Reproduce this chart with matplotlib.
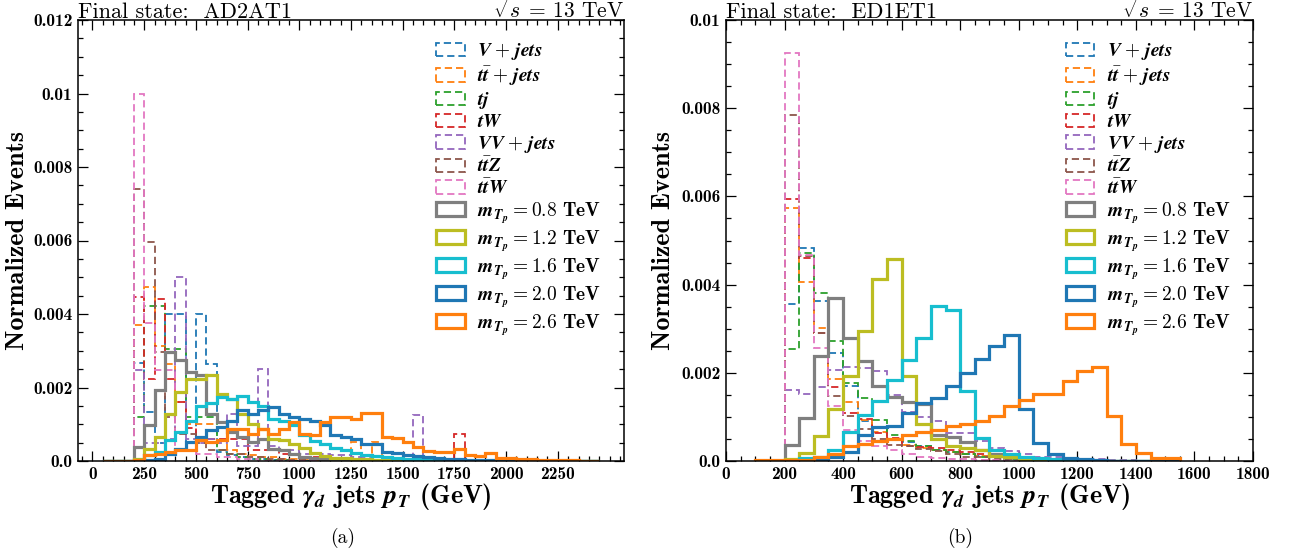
import numpy as np
import matplotlib
matplotlib.use("Agg")
import matplotlib.pyplot as plt
from matplotlib.ticker import FixedLocator, MultipleLocator

plt.rcParams['mathtext.fontset'] = 'cm'
plt.rcParams['axes.unicode_minus'] = False

# ---------------- data (normalized events, in units of 1e-3) ----------------
# Left panel: Final state AD2AT1, 50 GeV bins from 50 to 2450 GeV
left_edges = list(range(50, 2451, 50))
left_vjets = [0, 0, 0, 2.66, 1.33, 0.50, 4.00, 4.00,
              0.30, 4.00, 2.65, 0.25, 0.15, 0.10, 0.05, 0.05,
              0.03, 0.02, 0, 0, 0, 0, 0, 0,
              0, 0, 0, 0, 0, 0, 0, 0,
              0, 0, 0, 0, 0, 0, 0, 0,
              0, 0, 0, 0, 0, 0, 0, 0]
left_ttjets = [0, 0, 0, 3.69, 4.73, 3.14, 2.64, 1.60,
               1.00, 1.00, 1.00, 1.06, 0.30, 0.20, 0.15, 0.10,
               0.10, 0.05, 0.05, 0.05, 0.03, 0.03, 0.02, 0.02,
               0.52, 0.05, 0.53, 0.02, 0.01, 0, 0, 0,
               0, 0, 0, 0, 0, 0, 0, 0,
               0, 0, 0, 0, 0, 0, 0, 0]
left_tj = [0, 0, 0, 1.20, 4.23, 4.23, 3.05, 3.05,
           1.20, 1.20, 1.20, 0.30, 0.20, 0.10, 0.05, 0.05,
           0.03, 0.02, 0, 0, 0, 0, 0, 0,
           0, 0, 0, 0, 0, 0, 0, 0,
           0, 0, 0, 0, 0, 0, 0, 0,
           0, 0, 0, 0, 0, 0, 0, 0]
left_tw = [0, 0, 0, 4.46, 2.24, 4.40, 2.24, 1.60,
           0.90, 0.60, 0.60, 0.60, 0.60, 0.60, 0.30, 0.30,
           0.30, 0.20, 0.20, 0.10, 0.10, 0.05, 0.05, 0.05,
           0.05, 0.03, 0.03, 0.02, 0.02, 0.02, 0.02, 0.01,
           0.01, 0.01, 0.74, 0, 0, 0, 0, 0,
           0, 0, 0, 0, 0, 0, 0, 0]
left_vv = [0, 0, 0, 2.48, 0.50, 0.50, 0.60, 5.00,
           0.60, 0.50, 0.60, 0.50, 1.29, 0.40, 0.40, 2.50,
           0.40, 0.30, 0.30, 0.20, 0.20, 0.20, 0.15, 0.15,
           0.10, 0.10, 0.10, 0.05, 0.05, 0.05, 1.24, 0.05,
           0.03, 0.02, 0.02, 0.01, 0, 0, 0, 0,
           0, 0, 0, 0, 0, 0, 0, 0]
left_ttz = [0, 0, 0, 7.40, 5.95, 2.96, 1.20, 0.74,
            0.74, 0.50, 0.30, 0.30, 0.20, 0.20, 0.10, 0.10,
            0.05, 0.05, 0.03, 0.02, 0, 0, 0, 0,
            0, 0, 0, 0, 0, 0, 0, 0,
            0, 0, 0, 0, 0, 0, 0, 0,
            0, 0, 0, 0, 0, 0, 0, 0]
left_ttw = [0, 0, 0, 10.00, 3.75, 2.48, 2.48, 0.30,
            0.30, 0.20, 0.20, 0.10, 0.10, 0.05, 0.05, 0,
            0, 0, 0, 0, 0, 0, 0, 0,
            0, 0, 0, 0, 0, 0, 0, 0,
            0, 0, 0, 0, 0, 0, 0, 0,
            0, 0, 0, 0, 0, 0, 0, 0]
left_m08 = [0, 0, 0, 0.38, 0.97, 1.92, 2.96, 2.74,
            2.42, 2.33, 1.29, 1.06, 0.79, 0.65, 0.52, 0.60,
            0.34, 0.31, 0.20, 0.11, 0.08, 0.05, 0.03, 0.02,
            0.01, 0, 0, 0, 0, 0, 0, 0,
            0, 0, 0, 0, 0, 0, 0, 0,
            0, 0, 0, 0, 0, 0, 0, 0]
left_m12 = [0, 0, 0, 0.06, 0.34, 0.65, 1.29, 1.88,
            2.24, 2.24, 2.33, 1.83, 1.69, 1.29, 1.01, 0.88,
            0.60, 0.56, 0.45, 0.35, 0.22, 0.13, 0.09, 0.09,
            0.06, 0.05, 0.04, 0.03, 0.02, 0.01, 0.01, 0,
            0, 0, 0, 0, 0, 0, 0, 0,
            0, 0, 0, 0, 0, 0, 0, 0]
left_m16 = [0, 0, 0, 0.03, 0.15, 0.24, 0.56, 0.79,
            1.10, 1.51, 1.58, 1.74, 1.69, 1.78, 1.60, 1.51,
            1.15, 1.10, 0.97, 0.70, 0.55, 0.45, 0.35, 0.30,
            0.22, 0.15, 0.14, 0.10, 0.08, 0.06, 0.05, 0.04,
            0.03, 0.02, 0.02, 0.01, 0.01, 0, 0, 0,
            0, 0, 0, 0, 0, 0, 0, 0]
left_m20 = [0, 0, 0, 0, 0.02, 0.06, 0.20, 0.34,
            0.52, 0.65, 0.83, 0.92, 1.10, 1.38, 1.29, 1.39,
            1.47, 1.29, 1.20, 1.15, 1.10, 0.97, 0.70, 0.65,
            0.60, 0.45, 0.46, 0.25, 0.22, 0.16, 0.14, 0.10,
            0.09, 0.06, 0.05, 0.04, 0.03, 0.02, 0.02, 0.01,
            0.01, 0, 0, 0, 0, 0, 0, 0]
left_m26 = [0, 0, 0, 0.03, 0.15, 0.20, 0.24, 0.29,
            0.31, 0.56, 0.52, 0.56, 0.88, 0.88, 0.74, 0.88,
            0.74, 0.88, 1.06, 0.74, 0.70, 1.06, 1.20, 1.20,
            1.15, 1.30, 1.30, 0.65, 0.62, 0.52, 0.38, 0.27,
            0.25, 0.25, 0.34, 0.15, 0.13, 0.22, 0.09, 0.08,
            0.06, 0.05, 0.04, 0.03, 0.02, 0.02, 0.01, 0.01]

# Right panel: Final state ED1ET1, 50 GeV bins from 100 to 1550 GeV
right_edges = list(range(100, 1551, 50))
right_vjets = [0, 0, 3.55, 4.83, 3.62, 2.45, 1.70, 0.90,
               0.75, 0.50, 0.42, 0.35, 0.25, 0.20, 0.15, 0.12,
               0.10, 0.08, 0.06, 0.05, 0.04, 0.03, 0.02, 0.02,
               0.01, 0.01, 0, 0, 0]
right_ttjets = [0, 0, 5.73, 4.06, 3.02, 1.86, 1.33, 0.94,
                0.65, 0.49, 0.37, 0.30, 0.25, 0.20, 0.15, 0.12,
                0.10, 0.08, 0.06, 0.05, 0.04, 0.03, 0.02, 0.02,
                0.01, 0.01, 0, 0, 0]
right_tj = [0, 0, 2.54, 4.72, 3.80, 2.71, 1.77, 1.43,
            0.94, 0.60, 0.45, 0.35, 0.25, 0.20, 0.15, 0.10,
            0.08, 0.05, 0.04, 0.03, 0.02, 0.01, 0.01, 0,
            0, 0, 0, 0, 0]
right_tw = [0, 0, 5.94, 4.60, 2.90, 1.68, 1.09, 0.96,
            0.64, 0.53, 0.34, 0.32, 0.30, 0.26, 0.20, 0.15,
            0.10, 0.08, 0.05, 0.04, 0.03, 0.02, 0.01, 0.01,
            0, 0, 0, 0, 0]
right_vv = [0, 0, 1.62, 1.51, 1.68, 2.07, 2.13, 2.11,
            2.04, 1.50, 1.10, 1.00, 0.90, 0.64, 0.64, 0.45,
            0.30, 0.22, 0.15, 0.10, 0.08, 0.06, 0.05, 0.04,
            0.03, 0.02, 0.01, 0, 0]
right_ttz = [0, 0, 7.85, 4.64, 2.90, 1.47, 1.02, 0.72,
             0.49, 0.37, 0.34, 0.28, 0.22, 0.15, 0.10, 0.08,
             0.05, 0.04, 0.03, 0.02, 0.01, 0, 0, 0,
             0, 0, 0, 0, 0]
right_ttw = [0, 0, 9.26, 4.68, 2.56, 1.24, 0.71, 0.45,
             0.35, 0.25, 0.15, 0.10, 0.07, 0.05, 0.04, 0.03,
             0.02, 0.01, 0, 0, 0, 0, 0, 0,
             0, 0, 0, 0, 0]
right_m08 = [0, 0, 0.36, 0.98, 2.39, 3.70, 2.79, 2.26,
             1.70, 1.45, 1.33, 1.30, 0.60, 0.55, 0.43, 0.26,
             0.15, 0.10, 0.06, 0.04, 0.03, 0.02, 0.01, 0.01,
             0, 0, 0, 0, 0]
right_m12 = [0, 0, 0.04, 0.19, 0.56, 1.17, 1.92, 2.94,
             4.13, 4.57, 1.92, 0.83, 0.49, 0.34, 0.30, 0.25,
             0.12, 0.08, 0.05, 0.03, 0.02, 0.01, 0.01, 0,
             0, 0, 0, 0, 0]
right_m16 = [0, 0, 0, 0.07, 0.10, 0.25, 0.65, 1.05,
             1.36, 1.83, 2.29, 2.79, 3.51, 3.42, 1.58, 0.53,
             0.26, 0.15, 0.10, 0.07, 0.05, 0.03, 0.02, 0.01,
             0.01, 0, 0, 0, 0]
right_m20 = [0, 0, 0, 0.02, 0.05, 0.10, 0.20, 0.60,
             0.78, 0.80, 1.09, 1.32, 1.43, 1.69, 2.00, 2.32,
             2.60, 2.85, 1.17, 0.41, 0.16, 0.07, 0.04, 0.02,
             0.01, 0.01, 0, 0, 0]
right_m26 = [0.02, 0.02, 0.02, 0.02, 0.10, 0.17, 0.34, 0.38,
             0.45, 0.50, 0.60, 0.66, 0.70, 0.80, 0.83, 0.90,
             1.02, 1.24, 1.39, 1.51, 1.52, 1.81, 2.05, 2.13,
             1.02, 0.38, 0.19, 0.07, 0.07]

labels = [r'$\mathbfit{V}\;\mathbf{+}\;\mathbfit{jets}$',
          r'$\mathbfit{t}\bar{\mathbfit{t}}\;\mathbf{+}\;\mathbfit{jets}$',
          r'$\mathbfit{tj}$',
          r'$\mathbfit{tW}$',
          r'$\mathbfit{VV}\;\mathbf{+}\;\mathbfit{jets}$',
          r'$\mathbfit{t}\bar{\mathbfit{t}}\mathbfit{Z}$',
          r'$\mathbfit{t}\bar{\mathbfit{t}}\mathbfit{W}$',
          r'$\mathbfit{m}_{\mathbfit{T}_{\mathbfit{p}}}=\mathbf{0.8}$ TeV',
          r'$\mathbfit{m}_{\mathbfit{T}_{\mathbfit{p}}}=\mathbf{1.2}$ TeV',
          r'$\mathbfit{m}_{\mathbfit{T}_{\mathbfit{p}}}=\mathbf{1.6}$ TeV',
          r'$\mathbfit{m}_{\mathbfit{T}_{\mathbfit{p}}}=\mathbf{2.0}$ TeV',
          r'$\mathbfit{m}_{\mathbfit{T}_{\mathbfit{p}}}=\mathbf{2.6}$ TeV']
colors = ['tab:blue', 'tab:orange', 'tab:green', 'tab:red', 'tab:purple', 'tab:brown',
          'tab:pink', 'tab:gray', 'tab:olive', 'tab:cyan', 'tab:blue', 'tab:orange']
is_signal = [False] * 7 + [True] * 5

left_series = [left_vjets, left_ttjets, left_tj, left_tw, left_vv, left_ttz, left_ttw,
               left_m08, left_m12, left_m16, left_m20, left_m26]
right_series = [right_vjets, right_ttjets, right_tj, right_tw, right_vv, right_ttz, right_ttw,
                right_m08, right_m12, right_m16, right_m20, right_m26]

left_xticks = [0, 250, 500, 750, 1000, 1250, 1500, 1750, 2000, 2250]
left_yticks = [0.0, 0.002, 0.004, 0.006, 0.008, 0.01, 0.012]
left_yticklabels = ['0.0', '0.002', '0.004', '0.006', '0.008', '0.01', '0.012']
right_xticks = [0, 200, 400, 600, 800, 1000, 1200, 1400, 1600, 1800]
right_yticks = [0.0, 0.002, 0.004, 0.006, 0.008, 0.01]
right_yticklabels = ['0.0', '0.002', '0.004', '0.006', '0.008', '0.01']

# ---------------- figure ----------------
W, H = 1295, 556
fig = plt.figure(figsize=(W / 100, H / 100), dpi=100)
axL = fig.add_axes([78 / W, 1 - 461 / H, 546 / W, 441 / H])
axR = fig.add_axes([726 / W, 1 - 461 / H, 527 / W, 441 / H])

BOLD = 'cmb10'
REG = 'cmr10'


def draw(ax, edges, series, xticks, xminor, yticks, yticklabels, ylim, state, ylab_x):
    edges = np.asarray(edges, dtype=float)
    for vals, col, lab, sig in zip(series, colors, labels, is_signal):
        ax.hist(edges[:-1], bins=edges, weights=np.asarray(vals) * 1e-3,
                histtype='step', color=col, label=lab,
                linestyle='-' if sig else (0, (4.0, 2.2)),
                linewidth=2.3 if sig else 1.3)
    ax.set_ylim(*ylim)
    ax.xaxis.set_major_locator(FixedLocator(xticks))
    ax.set_xticklabels([str(t) for t in xticks])
    ax.xaxis.set_minor_locator(MultipleLocator(xminor))
    ax.yaxis.set_major_locator(FixedLocator(yticks))
    ax.set_yticklabels(yticklabels)
    ax.yaxis.set_minor_locator(MultipleLocator(0.0005))
    ax.tick_params(which='both', direction='in', top=True, right=True, width=0.9)
    ax.tick_params(which='major', length=7, labelsize=12.5, pad=4)
    ax.tick_params(which='minor', length=3.5)
    for lbl in ax.get_xticklabels() + ax.get_yticklabels():
        lbl.set_fontfamily(BOLD)
    for sp in ax.spines.values():
        sp.set_linewidth(1.1)
    ax.set_xlabel(r'Tagged $\mathbfit{\gamma}_{\mathbfit{d}}$ jets $\mathbfit{p}_{\mathbfit{T}}$ (GeV)',
                  fontfamily=BOLD, fontsize=18.8)
    ax.xaxis.set_label_coords(0.5, -(481 - 461) / 441)
    ax.set_ylabel('Normalized Events', fontfamily=BOLD, fontsize=18.8)
    ax.yaxis.set_label_coords(ylab_x, 0.5)
    ax.text(0.0, 1.004, 'Final state:  ' + state, transform=ax.transAxes, ha='left',
            va='baseline', fontfamily=REG, fontsize=16)
    ax.text(1.0, 1.004, r'$\sqrt{s}\,=\,13$ TeV', transform=ax.transAxes, ha='right',
            va='baseline', fontfamily=REG, fontsize=15.5)
    ax.legend(loc='upper right', bbox_to_anchor=(0.98, 0.978), frameon=False,
              prop={'family': BOLD, 'size': 14}, handlelength=1.45, handleheight=0.7,
              handletextpad=0.65, labelspacing=0.12, borderaxespad=0.2)


draw(axL, left_edges, left_series, left_xticks, 50, left_yticks, left_yticklabels,
     (0, 0.012), 'AD2AT1', -(78 - 29) / 546)
draw(axR, right_edges, right_series, right_xticks, 50, right_yticks, right_yticklabels,
     (0, 0.01), 'ED1ET1', -(726 - 675) / 527)
axR.set_xlim(0, 1800)

fig.text(343 / W, 1 - 538 / H, '(a)', ha='center', va='center', fontfamily=REG, fontsize=14)
fig.text(960 / W, 1 - 538 / H, '(b)', ha='center', va='center', fontfamily=REG, fontsize=14)

fig.savefig('out.png', dpi=100)
